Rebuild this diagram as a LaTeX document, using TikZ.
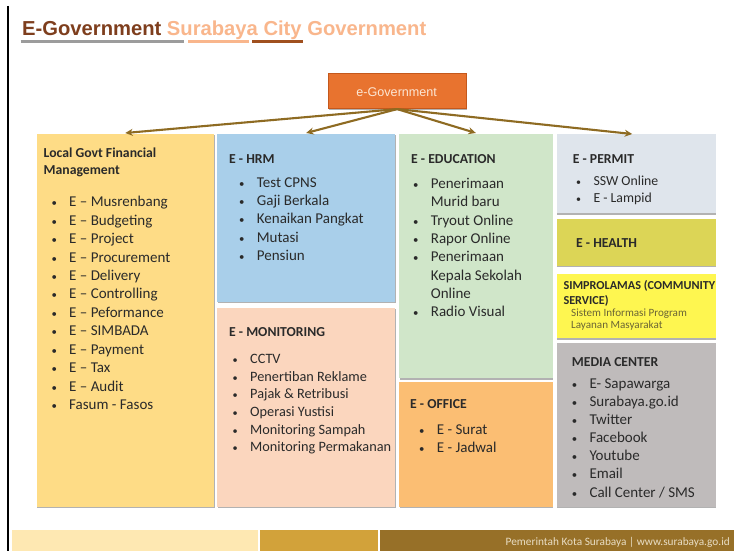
\documentclass[tikz,border=0pt]{standalone}
\usepackage{fontspec}
\setmainfont{Carlito}
\newfontfamily\arialf{Liberation Sans}
\usetikzlibrary{arrows.meta,shadows}

\definecolor{txt}{HTML}{2A2A2A}
\definecolor{rust}{HTML}{7E3E1D}
\definecolor{salmon}{HTML}{F9B68C}
\definecolor{rustline}{HTML}{A0501F}
\definecolor{grayline}{HTML}{9C9C9C}
\definecolor{egovfill}{HTML}{E8732F}
\definecolor{egovedge}{HTML}{C4581C}
\definecolor{egovtext}{HTML}{FCE6D3}
\definecolor{arrowc}{HTML}{8E6B22}
\definecolor{cFin}{HTML}{FEDC86}
\definecolor{cHrm}{HTML}{A9CFEA}
\definecolor{cMon}{HTML}{FBD6BE}
\definecolor{cEdu}{HTML}{D0E6C9}
\definecolor{cOff}{HTML}{FBBE73}
\definecolor{cPer}{HTML}{DFE5EC}
\definecolor{cHea}{HTML}{DCD556}
\definecolor{cSim}{HTML}{FEF650}
\definecolor{cMed}{HTML}{BFBBBB}
\definecolor{simsub}{HTML}{6B6535}
\definecolor{footA}{HTML}{FEE8B2}
\definecolor{footB}{HTML}{D2A23A}
\definecolor{footC}{HTML}{977028}
\definecolor{foottext}{HTML}{E8DDC4}

% small bullet centred on the row start, item text 15pt to its right
\newcommand\bitem{\makebox[0pt]{\scalebox{0.72}{\textbullet}}\hspace{15pt}}
\newcommand\bcont{\hspace{15pt}}

\tikzset{
  card/.style={draw=none, inner sep=0pt, outer sep=0pt, anchor=north west,
    drop shadow={shadow xshift=0.5pt, shadow yshift=-1.3pt, opacity=0.3, fill=black}},
  head/.style={inner sep=0pt, anchor=north west, text=txt,
    font=\fontsize{13.7}{16.7}\selectfont\bfseries},
  items/.style={inner sep=0pt, anchor=north west, text=txt,
    font=\fontsize{15}{18.3}\selectfont},
  link/.style={draw=arrowc, line width=2.1pt, -{Stealth[length=7.5pt,width=7pt]}},
  band/.style={draw=none, inner sep=0pt, outer sep=0pt, anchor=north west, minimum height=21pt},
}

\begin{document}
\begin{tikzpicture}[x=1pt,y=-1pt]
\useasboundingbox (0,0) rectangle (734,551);
\fill[white] (0,0) rectangle (734,551);

% left rule
\draw[black, line width=2pt] (8,6) -- (8,551);

% heading
\node[anchor=base west, inner sep=0pt, font=\arialf\bfseries\fontsize{20.2}{24}\selectfont]
  (heading) at (22,36) {\textcolor{rust}{E-Government} \textcolor{salmon}{Surabaya City Government}};
\draw[grayline, line width=2.6pt] (20.7,41.5) -- (184.3,41.5);
\draw[salmon, line width=2.6pt] (188.3,41.5) -- (249.3,41.5);
\draw[rustline, line width=2.6pt] (252.3,41.8) -- (303.3,41.8);

% root box
\node[draw=egovedge, line width=0.8pt, fill=egovfill, inner sep=0pt, anchor=north west,
  minimum width=137.5pt, minimum height=35pt,
  drop shadow={shadow xshift=0.6pt, shadow yshift=-1.2pt, opacity=0.3, fill=black}]
  (egov) at (328,73.3) {};
\node[text=egovtext, font=\arialf\fontsize{12.6}{15}\selectfont, inner sep=0pt]
  (egovlabel) at (396.7,92) {e-Government};

% cards
\node[card, fill=cFin, minimum width=177.5pt, minimum height=372.7pt] (fin) at (36.5,134) {};
\node[card, fill=cHrm, minimum width=177.7pt, minimum height=167.7pt] (hrm) at (217.3,134) {};
\node[card, fill=cMon, minimum width=177.7pt, minimum height=199pt] (mon) at (217.3,307.7) {};
\node[card, fill=cEdu, minimum width=153.7pt, minimum height=244.3pt] (edu) at (399,134) {};
\node[card, fill=cOff, minimum width=153.7pt, minimum height=124.4pt] (off) at (399,382.3) {};
\node[card, fill=cPer, minimum width=159pt, minimum height=79.3pt] (per) at (556.7,134) {};
\node[card, fill=cHea, minimum width=159pt, minimum height=46.7pt] (hea) at (556.7,219.3) {};
\node[card, fill=cSim, minimum width=159pt, minimum height=64.3pt] (sim) at (556.7,274) {};
\node[card, fill=cMed, minimum width=159pt, minimum height=163.4pt] (med) at (556.7,343.3) {};

% connectors
\draw[link] (egov.south) -- ([yshift=1pt]fin.north);
\draw[link] (egov.south) -- ([yshift=1pt]hrm.north);
\draw[link] (egov.south) -- ([yshift=1pt]edu.north);
\draw[link] (egov.south) -- ([xshift=-4pt,yshift=0pt]per.north);

% Local Govt Financial Management
\node[head] (finT) at (43.5,145.6) {\begin{tabular}{@{}l@{}}Local Govt Financial\\Management\end{tabular}};
\node[items, font=\fontsize{15}{18.45}\selectfont] (finL) at (54,193.6) {\begin{tabular}{@{}l@{}}
\bitem E – Musrenbang\\ \bitem E – Budgeting\\ \bitem E – Project\\ \bitem E – Procurement\\
\bitem E – Delivery\\ \bitem E – Controlling\\ \bitem E – Peformance\\ \bitem E – SIMBADA\\
\bitem E – Payment\\ \bitem E – Tax\\ \bitem E – Audit\\ \bitem Fasum - Fasos\end{tabular}};

% E - HRM
\node[head] (hrmT) at (229,151.6) {\begin{tabular}{@{}l@{}}E - HRM\end{tabular}};
\node[items, font=\fontsize{15}{18.2}\selectfont] (hrmL) at (241.7,174.6) {\begin{tabular}{@{}l@{}}
\bitem Test CPNS\\ \bitem Gaji Berkala\\ \bitem Kenaikan Pangkat\\ \bitem Mutasi\\ \bitem Pensiun\end{tabular}};

% E - MONITORING
\node[head] (monT) at (229,324.3) {\begin{tabular}{@{}l@{}}E - MONITORING\end{tabular}};
\node[items, font=\fontsize{14.3}{17.7}\selectfont] (monL) at (235,350.9) {\begin{tabular}{@{}l@{}}
\bitem CCTV\\ \bitem Penertiban Reklame\\ \bitem Pajak \& Retribusi\\ \bitem Operasi Yustisi\\
\bitem Monitoring Sampah\\ \bitem Monitoring Permakanan\end{tabular}};

% E - EDUCATION
\node[head] (eduT) at (411,151.6) {\begin{tabular}{@{}l@{}}E - EDUCATION\end{tabular}};
\node[items] (eduL) at (415.7,175.5) {\begin{tabular}{@{}l@{}}
\bitem Penerimaan\\ \bcont Murid baru\\ \bitem Tryout Online\\ \bitem Rapor Online\\
\bitem Penerimaan\\ \bcont Kepala Sekolah\\ \bcont Online\\ \bitem Radio Visual\end{tabular}};

% E - OFFICE
\node[head] (offT) at (410,396.9) {\begin{tabular}{@{}l@{}}E - OFFICE\end{tabular}};
\node[items, font=\fontsize{15}{18.7}\selectfont] (offL) at (421.7,420.9) {\begin{tabular}{@{}l@{}}
\bitem E - Surat\\ \bitem E - Jadwal\end{tabular}};

% E - PERMIT
\node[head] (perT) at (572.7,151.6) {\begin{tabular}{@{}l@{}}E - PERMIT\end{tabular}};
\node[items, font=\fontsize{13.8}{17}\selectfont] (perL) at (578.3,173.1) {\begin{tabular}{@{}l@{}}
\bitem SSW Online\\ \bitem E - Lampid\end{tabular}};

% E - HEALTH
\node[head] (heaT) at (576,235.9) {\begin{tabular}{@{}l@{}}E - HEALTH\end{tabular}};

% SIMPROLAMAS
\node[head, font=\fontsize{12.2}{14.3}\selectfont\bfseries] (simT) at (563.3,279.6)
  {\begin{tabular}{@{}l@{}}SIMPROLAMAS (COMMUNITY\\SERVICE)\end{tabular}};
\node[inner sep=0pt, anchor=north west, text=simsub, font=\fontsize{11.1}{12.4}\selectfont] (simL) at (571,307.5)
  {\begin{tabular}{@{}l@{}}Sistem Informasi Program\\Layanan Masyarakat\end{tabular}};

% MEDIA CENTER
\node[head] (medT) at (571.7,354.3) {\begin{tabular}{@{}l@{}}MEDIA CENTER\end{tabular}};
\node[items, font=\fontsize{15}{18.1}\selectfont] (medL) at (574.3,375.6) {\begin{tabular}{@{}l@{}}
\bitem E- Sapawarga\\ \bitem Surabaya.go.id\\ \bitem Twitter\\ \bitem Facebook\\
\bitem Youtube\\ \bitem Email\\ \bitem Call Center / SMS\end{tabular}};

% footer bands
\node[band, fill=footA, minimum width=246pt] (footA) at (12,530) {};
\node[band, fill=footB, minimum width=118pt] (footB) at (260,530) {};
\node[band, fill=footC, minimum width=354pt] (footC) at (380,530) {};
\node[anchor=base east, inner sep=0pt, text=foottext, font=\fontsize{11.3}{13}\selectfont]
  (footText) at (730,545) {Pemerintah Kota Surabaya | www.surabaya.go.id};
\end{tikzpicture}
\end{document}
